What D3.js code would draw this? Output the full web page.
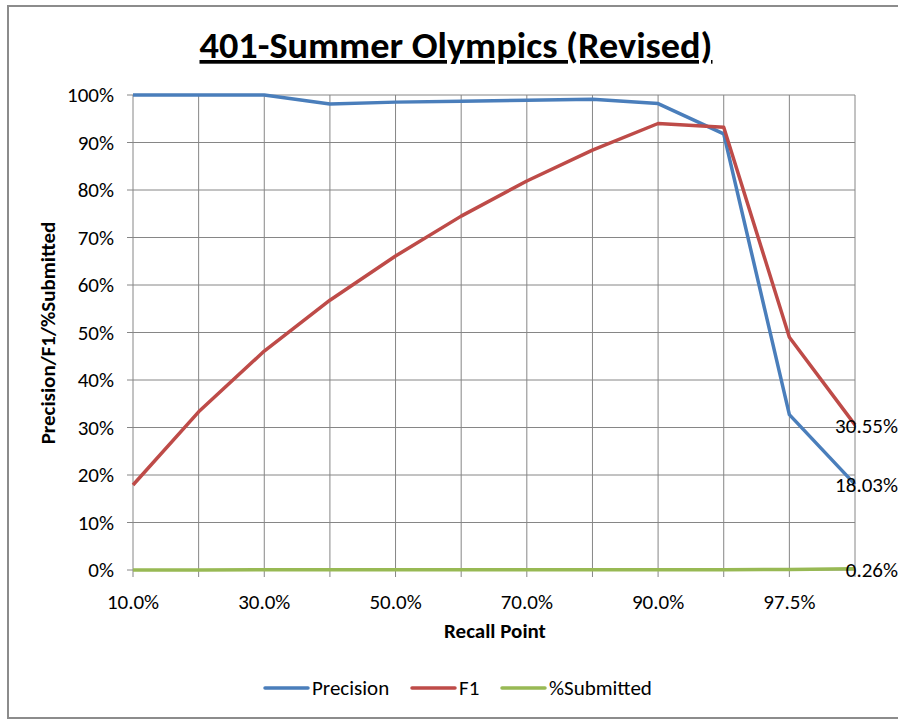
<!DOCTYPE html>
<html>
<head>
<meta charset="utf-8">
<script src="https://cdn.jsdelivr.net/npm/d3@7"></script>
<style>
  body { margin: 0; background: #fff; }
  svg text { font-family: Carlito, Calibri, 'Open Sans', sans-serif; }
</style>
</head>
<body>
<svg class="chart" width="898" height="720"></svg>
<script>
// categories (recall points) and series values in %
const recallPoints = ['10.0%', '20.0%', '30.0%', '40.0%', '50.0%', '60.0%', '70.0%', '80.0%', '90.0%', '95.0%', '97.5%', '100.0%'];
const shownTicks = ['10.0%', '30.0%', '50.0%', '70.0%', '90.0%', '97.5%'];
const precision = [100, 100, 100, 98.1, 98.5, 98.7, 98.9, 99.1, 98.2, 91.8, 32.7, 18.03];
const f1 = [17.9, 33.3, 46.1, 56.8, 66.1, 74.5, 81.9, 88.4, 94.0, 93.2, 49.0, 30.55];
const submitted = [0.02, 0.02, 0.03, 0.03, 0.04, 0.04, 0.05, 0.05, 0.06, 0.07, 0.09, 0.26];
const yTicks = [0, 10, 20, 30, 40, 50, 60, 70, 80, 90, 100];

function drawChart(){
  const svg = d3.select('svg.chart');
  const margin = {left: 133, right: 855, top: 95, bottom: 570};
  const fs = '21px';

  const x = d3.scalePoint()
      .domain(recallPoints)
      .range([margin.left, margin.right]);

  const y = d3.scaleLinear()
      .domain([0, 100])
      .range([margin.bottom, margin.top]);

  // outer chart border
  svg.append('rect')
      .attr('x', 8).attr('y', 6)
      .attr('width', 900).attr('height', 712)
      .style('fill', 'none')
      .style('stroke', '#8c8c8c')
      .style('stroke-width', 2);

  // title
  svg.append('text')
      .attr('x', 456)
      .attr('y', 58)
      .attr('text-anchor', 'middle')
      .attr('textLength', 513)
      .attr('lengthAdjust', 'spacingAndGlyphs')
      .style('font-size', '37px')
      .style('font-weight', 'bold')
      .style('text-decoration', 'underline')
      .style('fill', '#000')
      .text('401-Summer Olympics (Revised)');

  // horizontal gridlines
  svg.append('g')
      .selectAll('line')
      .data(yTicks)
      .enter()
      .append('line')
      .attr('x1', margin.left - 6)
      .attr('x2', margin.right)
      .attr('y1', d => y(d))
      .attr('y2', d => y(d))
      .style('stroke', '#868686')
      .style('stroke-width', 1);

  // vertical gridlines + tick marks below axis
  svg.append('g')
      .selectAll('line')
      .data(recallPoints)
      .enter()
      .append('line')
      .attr('x1', d => x(d))
      .attr('x2', d => x(d))
      .attr('y1', margin.top)
      .attr('y2', margin.bottom + 7)
      .style('stroke', '#868686')
      .style('stroke-width', 1);

  // y tick labels
  svg.append('g')
      .selectAll('text')
      .data(yTicks)
      .enter()
      .append('text')
      .attr('x', 114)
      .attr('y', d => y(d) + 7)
      .attr('text-anchor', 'end')
      .style('font-size', fs)
      .style('fill', '#000')
      .text(d => d + '%');

  // x tick labels
  svg.append('g')
      .selectAll('text')
      .data(shownTicks)
      .enter()
      .append('text')
      .attr('x', d => x(d))
      .attr('y', 609)
      .attr('text-anchor', 'middle')
      .style('font-size', fs)
      .style('fill', '#000')
      .text(d => d);

  // axis titles
  svg.append('text')
      .attr('x', 495)
      .attr('y', 638)
      .attr('text-anchor', 'middle')
      .style('font-size', fs)
      .style('font-weight', 'bold')
      .text('Recall Point');

  svg.append('text')
      .attr('transform', 'translate(55, 333) rotate(-90)')
      .attr('text-anchor', 'middle')
      .style('font-size', fs)
      .style('font-weight', 'bold')
      .text('Precision/F1/%Submitted');

  const series = [
    {name: 'Precision', values: precision, color: '#4a7ebb'},
    {name: 'F1', values: f1, color: '#be4b48'},
    {name: '%Submitted', values: submitted, color: '#98b954'}
  ];

  const line = d3.line()
      .x((d, i) => x(recallPoints[i]))
      .y(d => y(d));

  svg.append('g')
      .selectAll('path')
      .data(series)
      .enter()
      .append('path')
      .attr('d', d => line(d.values))
      .style('fill', 'none')
      .style('stroke', d => d.color)
      .style('stroke-width', 3.5)
      .style('stroke-linejoin', 'round');

  // end labels
  svg.append('g')
      .selectAll('text')
      .data(series)
      .enter()
      .append('text')
      .attr('x', 898)
      .attr('y', d => y(d.values[d.values.length - 1]) + 8)
      .attr('text-anchor', 'end')
      .style('font-size', fs)
      .style('fill', '#000')
      .text(d => d.values[d.values.length - 1].toFixed(2) + '%');

  // legend
  const legendX = [265, 412, 502];
  const legend = svg.append('g')
      .selectAll('g')
      .data(series)
      .enter()
      .append('g')
      .attr('transform', (d, i) => `translate(${legendX[i]}, 688)`);

  legend.append('line')
      .attr('x1', 0).attr('x2', 43)
      .attr('y1', 0).attr('y2', 0)
      .style('stroke', d => d.color)
      .style('stroke-width', 3.5)
      .style('stroke-linecap', 'round');

  legend.append('text')
      .attr('x', 47)
      .attr('y', 7)
      .style('font-size', fs)
      .style('fill', '#000')
      .text(d => d.name);
}

drawChart();
</script>
</body>
</html>
